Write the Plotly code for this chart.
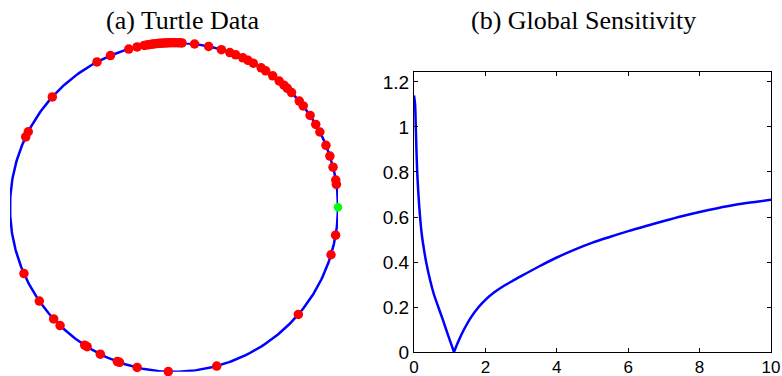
import numpy as np
import plotly.graph_objects as go

# ---- data ----
# (a) Turtle data: headings on the unit circle (degrees)
turtle_angles_deg = [
    154.7, 152.7, 137.9, 118.0, 112.8, 106.0, 103.0,
    100.5, 99.6, 98.8, 98.0, 97.2, 96.5, 95.7, 95.0, 94.2, 93.5,
    92.7, 92.0, 91.2, 90.4, 89.6, 88.8, 88.0, 87.2,
    82.8, 77.8, 73.2, 70.1, 67.9, 65.2, 63.2, 61.1, 57.9, 56.0,
    53.0, 50.1, 47.9, 46.3, 44.2, 40.2, 38.0, 33.9, 30.2, 27.2,
    22.1, 18.1, 14.1, 9.5, 8.0,
    -9.8, -16.8, -40.7, -74.9,
    203.8, 214.8, 222.8, 226.0, 237.0, 238.0, 243.3, 249.8, 250.6, 257.0, 268.0,
]
reference_angle_deg = [0.0]

# (b) Global sensitivity curve (left branch down to the cusp, right branch up from it)
gs_x_left = [0.0, 0.03, 0.05, 0.07, 0.09, 0.12, 0.17, 0.22, 0.28, 0.34, 0.45, 0.55,
             0.68, 0.8, 0.9, 1.0, 1.12]
gs_y_left = [1.14, 1.10, 1.0, 0.89, 0.80, 0.71, 0.60, 0.52, 0.455, 0.40, 0.32, 0.26,
             0.20, 0.147, 0.10, 0.054, 0.0]
gs_x_right = [1.12, 1.25, 1.4, 1.6, 1.8, 2.0, 2.25, 2.5, 2.75, 3.0, 3.5, 4.0, 4.5, 5.0,
              5.5, 6.0, 6.5, 7.0, 7.5, 8.0, 8.5, 9.0, 9.5, 10.0]
gs_y_right = [0.0, 0.05, 0.10, 0.155, 0.198, 0.232, 0.265, 0.292, 0.315, 0.337, 0.38, 0.42,
              0.455, 0.486, 0.512, 0.537, 0.56, 0.582, 0.603, 0.622, 0.639, 0.654, 0.666,
              0.677]

W, H = 782, 376

fig = go.Figure()

# circle outline
t = np.linspace(0, 2 * np.pi, 400)
fig.add_trace(go.Scatter(x=np.cos(t), y=np.sin(t), mode="lines",
                         line=dict(color="#0000FF", width=2.5),
                         xaxis="x", yaxis="y", hoverinfo="skip", showlegend=False))

a = np.deg2rad(np.array(turtle_angles_deg))
fig.add_trace(go.Scatter(x=np.cos(a), y=np.sin(a), mode="markers",
                         marker=dict(color="#FF0000", size=9.5),
                         xaxis="x", yaxis="y", cliponaxis=False, showlegend=False))
r = np.deg2rad(np.array(reference_angle_deg))
fig.add_trace(go.Scatter(x=np.cos(r), y=np.sin(r), mode="markers",
                         marker=dict(color="#00FF00", size=8.5),
                         xaxis="x", yaxis="y", cliponaxis=False, showlegend=False))

for xs, ys in ((gs_x_left, gs_y_left), (gs_x_right, gs_y_right)):
    fig.add_trace(go.Scatter(x=xs, y=ys, mode="lines",
                             line=dict(color="#0000FF", width=2.5, shape="spline",
                                       smoothing=0.8),
                             xaxis="x2", yaxis="y2", showlegend=False))

ytickfont = dict(family="Liberation Sans, Arial, sans-serif", size=19, color="black")
xtickfont = dict(family="Liberation Sans, Arial, sans-serif", size=17, color="black")

fig.update_layout(
    width=W, height=H,
    margin=dict(l=0, r=0, t=0, b=0, pad=0),
    paper_bgcolor="white", plot_bgcolor="white",
    xaxis=dict(domain=[10 / W, 338 / W], range=[-1, 1], visible=False, automargin=False),
    yaxis=dict(domain=[1 - 371.7 / H, 1 - 42.7 / H], range=[-1, 1], visible=False,
               automargin=False),
    xaxis2=dict(domain=[414 / W, 771 / W], range=[0, 10], tickvals=[0, 2, 4, 6, 8, 10],
                ticks="inside", ticklen=4, tickcolor="black", showline=True, linecolor="black",
                linewidth=1, mirror="ticks", showgrid=False, zeroline=False, tickfont=xtickfont,
                anchor="y2", automargin=False),
    yaxis2=dict(domain=[1 - 352 / H, 1 - 72 / H], range=[0, 1.2444],
                tickvals=[0, 0.2, 0.4, 0.6, 0.8, 1.0, 1.2],
                ticktext=["0", "0.2", "0.4", "0.6", "0.8", "1", "1.2"],
                ticks="inside", ticklen=4, tickcolor="black", showline=True, linecolor="black",
                linewidth=1, mirror="ticks", showgrid=False, zeroline=False, tickfont=ytickfont,
                anchor="x2", automargin=False),
    annotations=[
        dict(text="(a) Turtle Data", x=182.5 / W, y=1 - 20 / H, xref="paper", yref="paper",
             xanchor="center", yanchor="middle", showarrow=False,
             font=dict(family="Liberation Serif, serif", size=26, color="black")),
        dict(text="(b) Global Sensitivity", x=583 / W, y=1 - 20 / H, xref="paper", yref="paper",
             xanchor="center", yanchor="middle", showarrow=False,
             font=dict(family="Liberation Serif, serif", size=26, color="black")),
    ],
)

fig.write_html("out.html", config={"displayModeBar": False},
               post_script="document.body.style.margin='0';document.body.style.overflow='hidden';")
